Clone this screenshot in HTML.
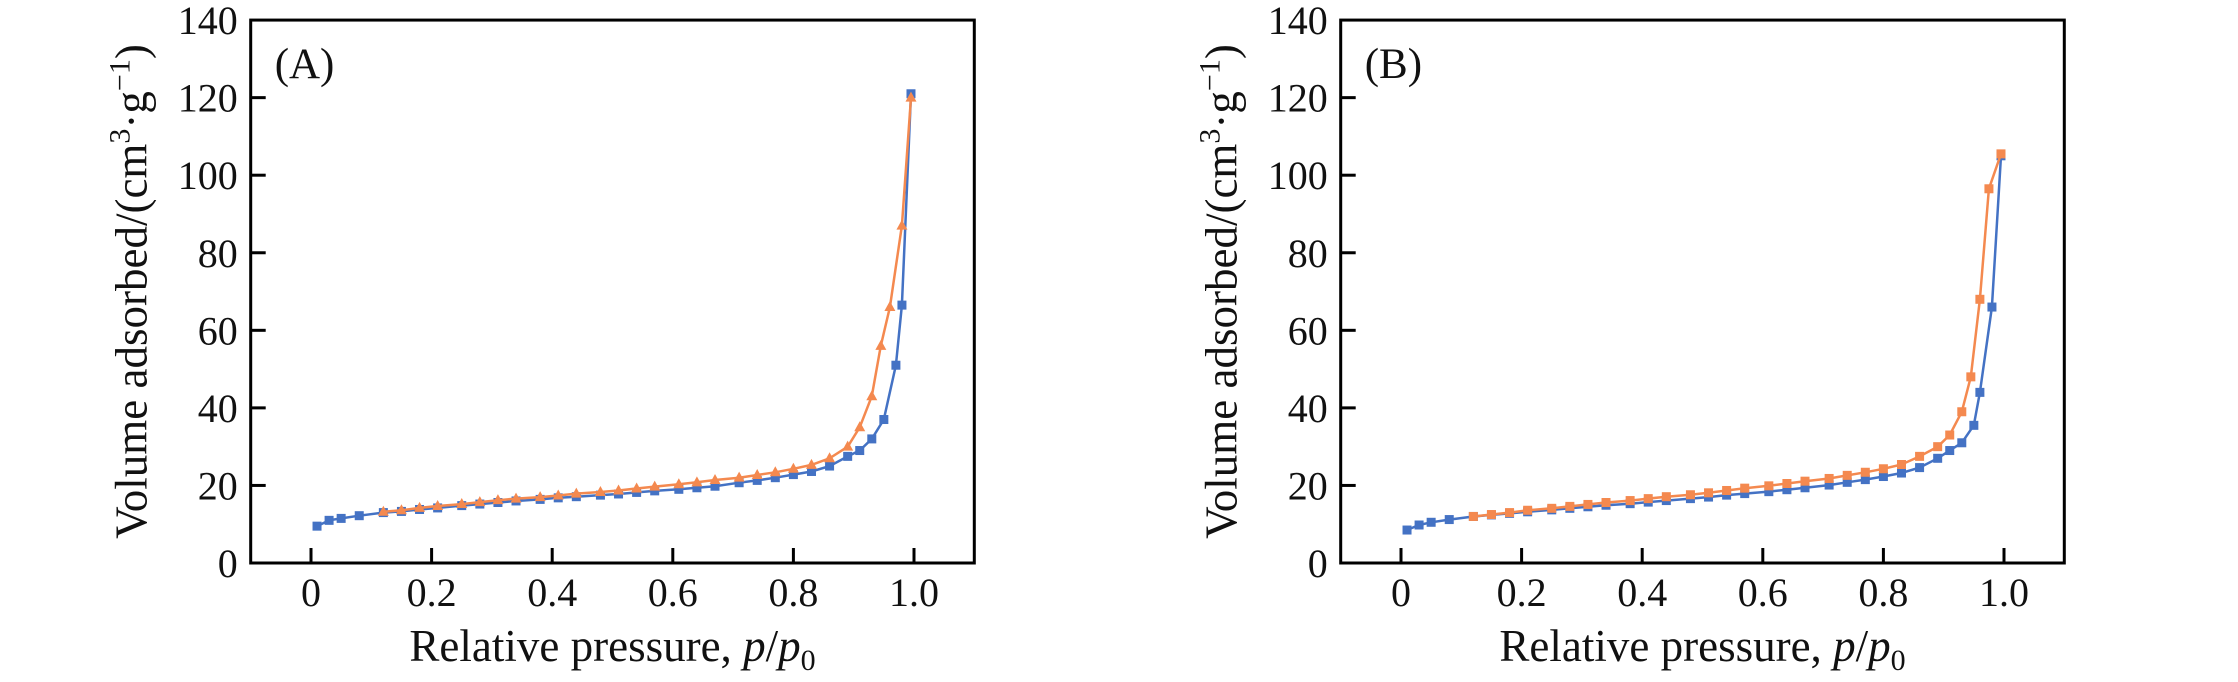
<!DOCTYPE html>
<html><head><meta charset="utf-8"><style>
html,body{margin:0;padding:0;background:#fff;}
svg text{font-family:"Liberation Serif",serif;fill:#111;}
</style></head><body>
<svg id="chart" width="2238" height="677" viewBox="0 0 2238 677" xmlns="http://www.w3.org/2000/svg"></svg>
<script>
const xTicks=[0,0.2,0.4,0.6,0.8,1.0];
const xTickLabels=["0","0.2","0.4","0.6","0.8","1.0"];
const yTicks=[0,20,40,60,80,100,120,140];
const aBlueX=[0.01,0.03,0.05,0.08,0.12,0.15,0.18,0.21,0.25,0.28,0.31,0.34,0.38,0.41,0.44,0.48,0.51,0.54,0.57,0.61,0.64,0.67,0.71,0.74,0.77,0.80,0.83,0.86,0.89,0.91,0.93,0.95,0.97,0.98,0.995];
const aBlueY=[9.5,11,11.5,12.2,13,13.3,13.8,14.2,14.8,15.2,15.6,16,16.4,16.8,17.1,17.5,17.8,18.2,18.6,19,19.4,19.8,20.7,21.3,22,22.8,23.6,25,27.5,29,32,37,51,66.5,121];
const aOrX=[0.12,0.15,0.18,0.21,0.25,0.28,0.31,0.34,0.38,0.41,0.44,0.48,0.51,0.54,0.57,0.61,0.64,0.67,0.71,0.74,0.77,0.80,0.83,0.86,0.89,0.91,0.93,0.945,0.96,0.98,0.995];
const aOrY=[13.2,13.6,14.2,14.7,15.2,15.7,16.2,16.6,17,17.4,17.9,18.3,18.7,19.2,19.7,20.3,20.8,21.4,22,22.7,23.4,24.3,25.3,27,30,35,43,56,66,87,120];
const bBlueX=[0.01,0.03,0.05,0.08,0.12,0.15,0.18,0.21,0.25,0.28,0.31,0.34,0.38,0.41,0.44,0.48,0.51,0.54,0.57,0.61,0.64,0.67,0.71,0.74,0.77,0.80,0.83,0.86,0.89,0.91,0.93,0.95,0.96,0.98,0.995];
const bBlueY=[8.5,9.8,10.5,11.2,12,12.4,12.8,13.2,13.7,14.1,14.5,14.9,15.3,15.7,16.1,16.6,17,17.5,17.9,18.4,18.9,19.4,20.1,20.8,21.5,22.3,23.2,24.6,27,29,31,35.5,44,66,105];
const bOrX=[0.12,0.15,0.18,0.21,0.25,0.28,0.31,0.34,0.38,0.41,0.44,0.48,0.51,0.54,0.57,0.61,0.64,0.67,0.71,0.74,0.77,0.80,0.83,0.86,0.89,0.91,0.93,0.945,0.96,0.975,0.995];
const bOrY=[12,12.5,13,13.6,14.1,14.6,15.1,15.6,16.1,16.6,17.1,17.6,18.1,18.7,19.3,19.9,20.5,21.1,21.8,22.6,23.4,24.3,25.4,27.5,30,33,39,48,68,96.5,105.5];

const NS="http://www.w3.org/2000/svg";
const svg=document.getElementById('chart');
function mk(tag,attrs,parent,text){const e=document.createElementNS(NS,tag);for(const k in attrs)e.setAttribute(k,attrs[k]);if(text!==undefined)e.textContent=text;(parent||svg).appendChild(e);return e;}

function panel(key,x0,label,series){
  const g=mk('g',{});
  
  
  const X=v=>x0+(v+0.1)*603;
  const Y=v=>563-v*3.878;
  const L=X(-0.1),R=X(1.1),T=Y(140),B=Y(0);
  yTicks.forEach(t=>{
    if(t>0&&t<140){const l=mk('line',{x1:L,x2:L+15,y1:Y(t),y2:Y(t),stroke:'#000','stroke-width':3},g);
    
    }
    const tx=mk('text',{x:L-13,y:Y(t)+14,'font-size':40,'text-anchor':'end'},g,String(t));
    
    
  });
  xTicks.forEach((t,i)=>{
    const l=mk('line',{x1:X(t),x2:X(t),y1:B,y2:B-15,stroke:'#000','stroke-width':3},g);
    
    
    const tx=mk('text',{x:X(t),y:606,'font-size':40,'text-anchor':'middle'},g,xTickLabels[i]);
    
    
  });
  series.forEach(s=>{
    const pts=s.x.map((v,i)=>X(v).toFixed(1)+','+Y(s.y[i]).toFixed(1)).join(' ');
    const pl=mk('polyline',{points:pts,fill:'none',stroke:s.c,'stroke-width':2.5},g);
    
    
    s.x.forEach((v,i)=>{
      const cx=X(v),cy=Y(s.y[i]);let m;
      if(s.tri){m=mk('polygon',{points:`${cx},${cy-6} ${cx-5.5},${cy+4} ${cx+5.5},${cy+4}`,fill:s.c},g);}
      else{m=mk('rect',{x:cx-4.5,y:cy-4.5,width:9,height:9,fill:s.c},g);}
      
      
    });
  });
  const fr=mk('rect',{x:L,y:T,width:R-L,height:B-T,fill:'none',stroke:'#000','stroke-width':3},g);
  
  
  const pl=mk('text',{x:L+24,y:T+58,'font-size':43},g,label);
  
  
  const yt=mk('text',{x:0,y:0,'font-size':45,'text-anchor':'middle',transform:`translate(${L-104},${(T+B)/2}) rotate(-90)`},g);
  
  
  yt.innerHTML='Volume adsorbed/(cm<tspan dy="-17" font-size="30">3</tspan><tspan dy="17">·g</tspan><tspan dy="-17" font-size="30">−1</tspan><tspan dy="17">)</tspan>';
  const xt=mk('text',{x:(L+R)/2,y:661,'font-size':45,'text-anchor':'middle'},g);
  
  
  xt.innerHTML='Relative pressure, <tspan font-style="italic">p</tspan>/<tspan font-style="italic">p</tspan><tspan dy="9" font-size="30">0</tspan>';
}
panel('a',250.7,'(A)',[{x:aBlueX,y:aBlueY,c:'#4472C4',n:'a-adsorption'},{x:aOrX,y:aOrY,c:'#F4894F',n:'a-desorption',tri:true}]);
panel('b',1340.7,'(B)',[{x:bBlueX,y:bBlueY,c:'#4472C4',n:'b-adsorption'},{x:bOrX,y:bOrY,c:'#F4894F',n:'b-desorption'}]);
</script>
</body></html>
